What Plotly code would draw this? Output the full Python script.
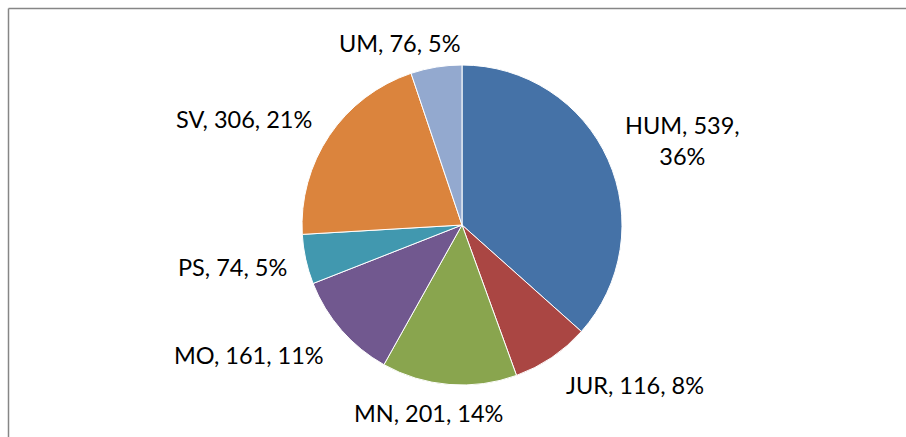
import plotly.graph_objects as go

categories = ["HUM", "JUR", "MN", "MO", "PS", "SV", "UM"]
values = [539, 116, 201, 161, 74, 306, 76]
pct_labels = ["36%", "8%", "14%", "11%", "5%", "21%", "5%"]
colors = ["#4572A7", "#AA4643", "#89A54E", "#71588F", "#4198AF", "#DB843D", "#93A9CF"]

# label centre positions in pixels (layout only)
label_px = [(682, 141), (635, 385), (428, 413), (249, 355), (233, 267), (244, 119), (400, 43)]

W, H = 906, 437
fig = go.Figure(go.Pie(
    labels=categories,
    values=values,
    textinfo="none",
    sort=False,
    direction="clockwise",
    rotation=0,
    marker=dict(colors=colors, line=dict(color="white", width=1)),
    domain=dict(x=[302 / W, 622 / W], y=[(H - 385) / H, (H - 65) / H]),
    showlegend=False,
    hoverinfo="none",
))

annotations = []
for c, v, p, (px, py) in zip(categories, values, pct_labels, label_px):
    txt = f"{c}, {v},<br>{p}" if c == "HUM" else f"{c}, {v}, {p}"
    annotations.append(dict(
        x=px / W, y=1 - py / H, xref="paper", yref="paper",
        text=txt, showarrow=False, xanchor="center", yanchor="middle",
        align="center",
        font=dict(family="Lato", size=23.5, color="#000000"),
    ))

fig.update_layout(
    width=W, height=H,
    margin=dict(l=0, r=0, t=0, b=0),
    paper_bgcolor="white",
    plot_bgcolor="white",
    annotations=annotations,
    shapes=[
        dict(type="line", xref="paper", yref="paper", x0=8.5 / W, x1=8.5 / W, y0=0, y1=1 - 8.5 / H,
             line=dict(color="#868686", width=1.5)),
        dict(type="line", xref="paper", yref="paper", x0=8.5 / W, x1=1, y0=1 - 8.5 / H, y1=1 - 8.5 / H,
             line=dict(color="#868686", width=1.5)),
    ],
)

fig.write_html("out.html", config={"displayModeBar": False},
               post_script="document.body.style.margin='0';document.body.style.overflow='hidden';")
